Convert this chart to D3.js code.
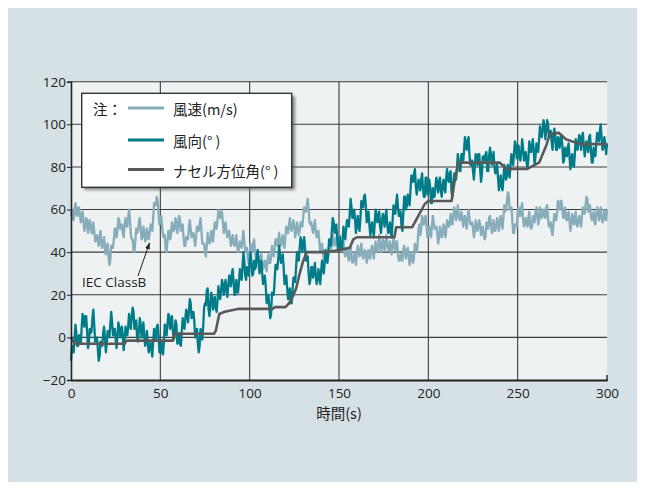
<!DOCTYPE html>
<html>
<head>
<meta charset="utf-8">
<script src="https://cdn.jsdelivr.net/npm/d3@7"></script>
<style>
  html, body { margin: 0; padding: 0; background: #ffffff; }
  svg { display: block; }
</style>
</head>
<body>
<svg id="chart" width="645" height="490"></svg>
<script>
// Whole-second samples 0–300 s, plus the half-second samples in between
const times = d3.range(0, 301);

// 風速 (m/s), IEC Class B turbulent wind — whole seconds
const windSpeed = [
  57,56,60,58,61,57,58,54,52,55,51,53,49,50,46,45,47,44,45,42,
  43,38,36,42,46,51,50,55,52,49,53,52,56,55,46,41,45,49,54,51,
  47,50,46,47,49,52,56,63,66,58,56,52,47,41,45,50,48,52,51,54,
  52,55,51,47,43,47,52,51,48,46,47,50,53,50,44,40,43,46,45,48,
  50,52,55,57,59,54,52,50,49,47,46,44,45,43,42,44,46,45,40,37,
  39,42,44,40,37,38,36,35,34,33,36,35,38,39,42,46,45,44,46,44,
  47,50,53,51,53,52,50,51,50,54,57,59,62,60,53,51,52,50,48,45,
  42,40,38,36,40,43,44,46,45,44,46,43,42,40,41,38,39,37,36,37,
  39,41,40,39,38,40,37,38,41,40,42,41,43,44,42,45,43,44,41,43,
  42,45,42,39,36,38,41,39,41,38,37,36,38,41,44,53,51,54,56,52,
  50,48,52,54,51,49,47,50,49,52,50,54,53,55,57,60,57,58,55,57,
  55,53,56,56,53,51,50,53,52,53,50,48,47,52,56,53,51,50,53,52,
  55,53,56,59,64,67,61,55,49,53,59,57,61,56,53,55,56,53,52,56,
  59,57,55,59,57,58,61,56,53,50,53,56,58,61,64,60,58,56,57,55,
  53,56,56,53,55,54,57,59,62,65,60,57,56,54,58,59,57,56,55,58,
  60
];
// 風速 — half-second samples (t = 0.5, 1.5, … 299.5)
const windSpeedMid = [
  60,55,63,57,61,54,59,50,56,49,55,49,54,45,48,43,50,42,47,39,
  44,34,43,42,51,47,56,51,53,47,56,52,60,48,46,40,51,50,56,46,
  52,45,51,46,53,50,63,62,64,53,57,48,48,40,50,46,54,50,56,49,
  57,50,53,43,47,46,55,47,49,43,52,50,56,44,44,38,49,44,50,45,
  54,51,60,56,59,49,54,47,50,43,48,43,48,40,45,42,50,41,42,34,
  44,40,46,37,40,33,39,32,36,31,39,35,43,38,46,43,49,43,48,42,
  52,49,56,50,55,47,54,48,54,52,61,59,65,54,54,49,55,47,50,40,
  44,36,41,36,44,40,48,43,47,41,48,41,45,38,42,36,42,35,40,34,
  43,38,44,37,41,35,41,37,43,37,45,40,48,40,46,41,48,41,45,39,
  47,41,45,36,39,36,43,37,42,34,40,35,44,40,51,48,57,53,57,47,
  52,47,57,51,52,44,52,47,53,47,55,52,58,53,61,55,62,55,59,52,
  57,51,60,53,54,47,55,50,55,48,52,46,54,51,57,49,55,50,56,50,
  57,51,62,60,68,60,61,49,53,52,61,57,63,52,56,52,59,51,57,54,
  61,53,61,56,60,56,62,52,54,48,58,55,64,60,64,56,61,55,59,50,
  58,53,59,52,57,52,61,58,66,59,62,55,59,53,61,55,61,54,60,55
];

// 風向 (°) — whole seconds
const windDirection = [
  -11,-4,-1,2,-4,0,5,8,10,3,-3,2,9,6,-1,-5,-9,-4,2,0,
  -3,1,6,7,2,-1,1,5,3,0,-1,2,5,6,10,12,5,0,3,6,
  4,1,-1,-3,-5,-6,-2,2,5,1,-5,-7,-2,4,6,10,7,3,2,6,
  -2,-3,3,5,9,11,12,16,10,8,2,-3,-4,1,5,16,22,13,15,19,
  16,14,17,20,22,25,24,22,24,27,30,26,20,23,26,30,33,36,27,31,
  36,35,30,32,39,36,33,30,27,24,18,14,11,20,27,34,37,39,36,33,
  27,23,20,16,22,28,33,38,42,45,44,42,36,30,27,33,31,29,27,29,
  31,32,35,37,39,46,50,54,52,47,44,42,45,48,51,53,58,61,57,55,
  53,52,56,61,66,62,56,53,51,50,54,58,55,52,54,56,57,53,50,49,
  55,60,63,61,59,52,58,66,62,65,69,74,77,71,70,72,74,70,66,75,
  68,71,63,66,71,72,73,69,71,70,75,74,77,68,72,76,79,83,78,86,
  88,91,92,86,81,78,80,84,86,79,77,85,86,78,85,86,83,80,79,75,
  72,71,74,77,76,79,81,83,87,90,88,84,87,89,85,82,84,89,90,87,
  85,88,93,96,98,99,97,100,96,92,94,95,88,91,94,90,83,86,89,85,
  83,81,86,90,92,93,94,90,88,91,94,88,82,86,91,95,97,93,89,91,
  91
];
// 風向 — half-second samples
const windDirectionMid = [
  -4,-7,6,-4,1,-3,11,5,10,-5,4,3,13,-2,0,-11,-2,-4,5,-7,
  3,0,12,1,4,-5,7,0,5,-6,5,1,11,4,14,4,8,-2,9,0,
  7,-4,3,-7,-2,-9,4,-1,6,-7,-2,-8,6,1,11,4,10,-1,8,-3,
  2,-4,9,4,13,7,18,9,12,0,4,-7,4,-1,14,15,23,10,21,13,
  19,12,24,18,27,20,27,19,29,24,32,20,27,21,32,27,40,29,33,29,
  40,29,36,33,41,30,36,25,29,16,20,9,21,20,34,32,43,35,39,25,
  29,18,23,16,28,26,40,36,47,40,47,36,38,25,33,28,35,25,32,25,
  36,30,41,35,46,43,56,49,53,41,47,41,52,46,55,52,65,56,60,49,
  57,50,64,61,67,54,59,48,54,47,60,54,59,49,58,52,60,49,54,47,
  62,58,67,57,59,50,66,60,67,62,76,73,79,67,74,69,77,66,75,67,
  74,63,70,66,75,68,75,66,74,68,79,73,78,66,77,74,86,78,86,82,
  94,88,94,81,83,74,86,81,86,73,85,83,87,78,89,81,87,77,81,69,
  76,69,81,74,81,75,86,81,92,84,90,83,93,83,87,79,92,87,93,81,
  91,87,99,94,102,93,102,94,97,88,98,88,94,89,95,82,89,85,91,79,
  86,80,93,88,95,88,96,85,92,87,95,82,89,85,96,92,100,88,94,86
];

// ナセル方位角 (°): yaw steps as (time, angle) vertices
const nacelleTime  = [0, 2, 30, 31, 57, 58, 80, 81, 83, 86, 94, 113, 114, 120, 122, 124, 126, 128, 130, 132,
                      143, 150, 156, 158, 160, 181, 182, 191, 196, 198, 200, 213, 215, 217, 240, 244, 255, 262,
                      266, 268, 273, 277, 285, 300];
const nacelleAngle = [0, -3, -3, -1.5, -1.5, 1.7, 1.7, 3, 11, 12, 13.4, 13.4, 14.2, 14.2, 16, 19, 23, 30, 36, 40,
                      40, 41, 42, 46, 47, 47, 51.7, 51.7, 59.5, 62.6, 64, 64, 75, 82, 82, 79, 79, 82,
                      90, 95.5, 96, 93, 90.7, 90.7];

const xTicks = [0, 50, 100, 150, 200, 250, 300];
const yTicks = [-20, 0, 20, 40, 60, 80, 100, 120];

const legendLabels = ["風速(m/s)", "風向(° )", "ナセル方位角(° )"];
const seriesColors = ["#86adb9", "#007c88", "#595959"];

const svg = d3.select("#chart");
const plotL = 71, plotR = 607, plotT = 81.7, plotB = 380;

const x = d3.scaleLinear().domain([0, 300]).range([plotL, plotR]);
const y = d3.scaleLinear().domain([-20, 120]).range([plotB, plotT]);

const font = "'Open Sans', 'Noto Sans', sans-serif";
const cjk = "'Noto Sans CJK JP', 'Noto Sans', sans-serif";

// merge whole- and half-second samples into one time-ordered series
function series(whole, mid) {
  const pts = [];
  times.forEach((t, i) => {
    pts.push([t, whole[i]]);
    if (i < mid.length) pts.push([t + 0.5, mid[i]]);
  });
  return pts;
}

// outer panel
svg.append("rect").attr("x", 8).attr("y", 8).attr("width", 629).attr("height", 474)
  .attr("fill", "#d6e1e5");

// plot background
svg.append("rect")
  .attr("x", plotL).attr("y", plotT)
  .attr("width", plotR - plotL).attr("height", plotB - plotT)
  .attr("fill", "#eef2f3");

// grid
const grid = svg.append("g");
grid.selectAll("line.h").data(yTicks.filter(d => d > -20)).join("line")
  .attr("x1", plotL).attr("x2", plotR)
  .attr("y1", d => y(d)).attr("y2", d => y(d))
  .attr("stroke", "#3c3c3c").attr("stroke-width", 1.1);
grid.selectAll("line.v").data(xTicks.filter(d => d > 0 && d < 300)).join("line")
  .attr("x1", d => x(d)).attr("x2", d => x(d))
  .attr("y1", plotT).attr("y2", plotB)
  .attr("stroke", "#3c3c3c").attr("stroke-width", 1.1);

// series
const line = d3.line().x(d => x(d[0])).y(d => y(d[1]));
const nacPts = nacelleTime.map((t, i) => [t, nacelleAngle[i]]);

svg.append("path").attr("d", line(series(windSpeed, windSpeedMid)))
  .attr("fill", "none").attr("stroke", seriesColors[0])
  .attr("stroke-width", 2.3).attr("stroke-linejoin", "round");
svg.append("path").attr("d", line(series(windDirection, windDirectionMid)))
  .attr("fill", "none").attr("stroke", seriesColors[1])
  .attr("stroke-width", 2.3).attr("stroke-linejoin", "round");
svg.append("path").attr("d", line(nacPts))
  .attr("fill", "none").attr("stroke", seriesColors[2])
  .attr("stroke-width", 2.6).attr("stroke-linejoin", "round");

// axes
const yAxis = d3.axisLeft(y).tickValues(yTicks).tickSize(4)
  .tickFormat(d => d < 0 ? "\u2212" + Math.abs(d) : d);
const gy = svg.append("g").attr("transform", `translate(${plotL},0)`).call(yAxis);
gy.select(".domain").attr("stroke", "#222").attr("stroke-width", 1.6);
gy.selectAll(".tick line").attr("stroke", "#222");
gy.selectAll("text").attr("font-family", font).attr("font-size", 13.5).attr("fill", "#222").attr("x", -5);

const xAxis = d3.axisBottom(x).tickValues(xTicks).tickSize(0).tickPadding(8);
const gx = svg.append("g").attr("transform", `translate(0,${plotB})`).call(xAxis);
gx.select(".domain").attr("stroke", "#222").attr("stroke-width", 2.2);
gx.selectAll("text").attr("font-family", font).attr("font-size", 13.5).attr("fill", "#222");
// small upward tick at the right end of the time axis
svg.append("line").attr("x1", x(300)).attr("x2", x(300))
  .attr("y1", plotB - 5).attr("y2", plotB + 1)
  .attr("stroke", "#222").attr("stroke-width", 1.4);

// axis title
svg.append("text").attr("x", (plotL + plotR) / 2).attr("y", 419)
  .attr("text-anchor", "middle").attr("font-family", cjk)
  .attr("font-size", 14.5).attr("fill", "#222").text("時間(s)");

// annotation
const defs = svg.append("defs");
defs.append("marker")
  .attr("id", "arrow").attr("viewBox", "0 0 10 10")
  .attr("refX", 9).attr("refY", 5).attr("markerWidth", 7).attr("markerHeight", 7)
  .attr("orient", "auto")
  .append("path").attr("d", "M0,1.5 L10,5 L0,8.5 Z").attr("fill", "#222");
svg.append("line")
  .attr("x1", 138).attr("y1", 276).attr("x2", 149.5).attr("y2", 243)
  .attr("stroke", "#222").attr("stroke-width", 1).attr("marker-end", "url(#arrow)");
svg.append("text").attr("x", 82).attr("y", 287)
  .attr("font-family", font).attr("font-size", 13.5).attr("fill", "#222").text("IEC ClassB");

// legend
const lg = svg.append("g");
const filt = defs.append("filter").attr("id", "shadow")
  .attr("x", "-10%").attr("y", "-10%").attr("width", "130%").attr("height", "130%");
filt.append("feGaussianBlur").attr("stdDeviation", 1.5);
lg.append("rect").attr("x", 84).attr("y", 96).attr("width", 211).attr("height", 94)
  .attr("fill", "#555").attr("opacity", 0.7).attr("filter", "url(#shadow)");
lg.append("rect").attr("x", 81.7).attr("y", 93.3).attr("width", 210).attr("height", 94)
  .attr("fill", "#fff").attr("stroke", "#333").attr("stroke-width", 1.4);
lg.append("text").attr("x", 93).attr("y", 115)
  .attr("font-family", cjk).attr("font-size", 14.5).attr("fill", "#222").text("注：");
const rowsY = [108, 140, 169.5];
legendLabels.forEach((lab, i) => {
  lg.append("line").attr("x1", 128).attr("x2", 164)
    .attr("y1", rowsY[i]).attr("y2", rowsY[i])
    .attr("stroke", seriesColors[i]).attr("stroke-width", 2.8);
  lg.append("text").attr("x", 173).attr("y", rowsY[i] + 7)
    .attr("font-family", cjk).attr("font-size", 14.5).attr("fill", "#222").text(lab);
});
</script>
</body>
</html>
